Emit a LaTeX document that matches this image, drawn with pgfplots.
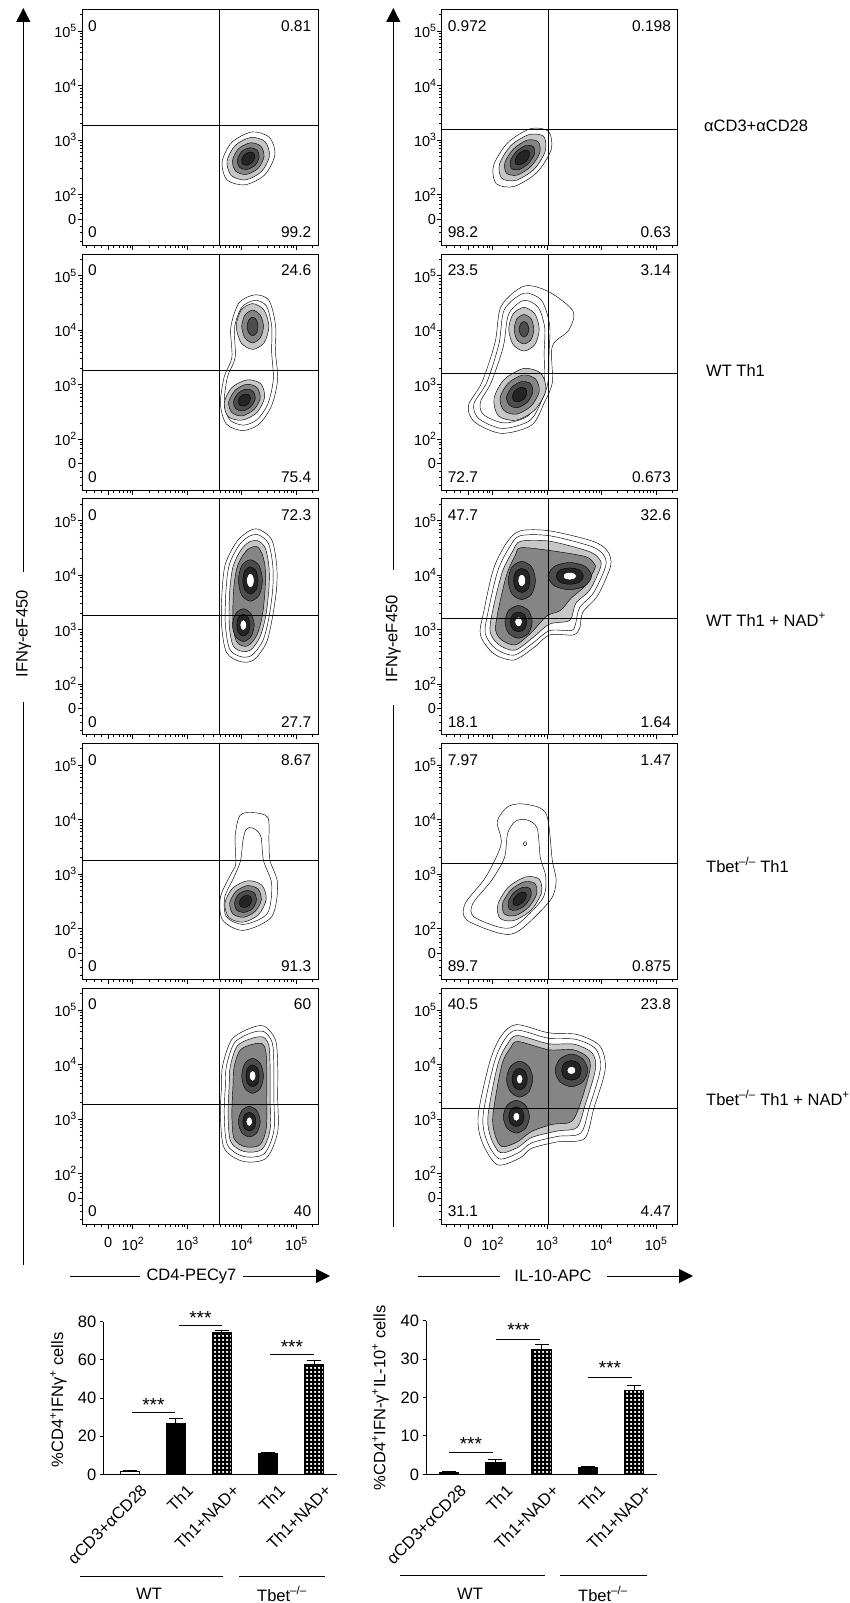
\documentclass[border=0pt]{standalone}
\usepackage{fontspec}
\setmainfont{Liberation Sans}
\usepackage{pgfplots}
\pgfplotsset{compat=1.18}
\usetikzlibrary{arrows.meta,patterns}

\pgfdeclarepatternformonly{blackgrid}{\pgfqpoint{-0.1pt}{-0.1pt}}{\pgfqpoint{4.1pt}{4.1pt}}{\pgfqpoint{4pt}{4pt}}{%
  \pgfpathrectangle{\pgfqpoint{0pt}{0pt}}{\pgfqpoint{4pt}{2pt}}%
  \pgfpathrectangle{\pgfqpoint{0pt}{0pt}}{\pgfqpoint{2pt}{4pt}}%
  \pgfusepath{fill}}

\newcommand\fTick{\fontsize{14.5}{15}\selectfont}
\newcommand\sups[1]{\raisebox{0.42em}{\fontsize{10.5}{11}\selectfont #1}}
\newcommand\fQ{\fontsize{15.5}{16}\selectfont}
\newcommand\fL{\fontsize{16.5}{17}\selectfont}
\newcommand\fB{\fontsize{16.5}{17}\selectfont}
\newcommand\fS{\fontsize{19}{19}\selectfont}

\pgfplotsset{
  c0/.style={draw=black, line width=0.45pt, smooth cycle, fill=none},
  c1/.style={c0, fill=black!22},
  c2/.style={c0, fill=black!48},
  c3/.style={c0, fill=black!70},
  c4/.style={c0, fill=black!86},
  cw/.style={c0, fill=white},
  gate/.style={black, line width=0.9pt},
  flow/.style={
    scale only axis, width=236pt, height=236pt, anchor=north west,
    xmin=1.07, xmax=5.4, ymin=1.07, ymax=5.4,
    axis line style={line width=0.9pt},
    tick align=outside, xtick pos=left, ytick pos=left,
    xtick={1.55,2,3,4,5}, ytick={1.55,2,3,4,5},
    xticklabels={},
    yticklabels={0,10\sups{2},10\sups{3},10\sups{4},10\sups{5}},
    minor xtick={1.15,1.3,1.42,1.65,1.75,1.83,1.9,1.95,2.301,2.477,2.602,2.699,2.778,2.845,2.903,2.954,3.301,3.477,3.602,3.699,3.778,3.845,3.903,3.954,4.301,4.477,4.602,4.699,4.778,4.845,4.903,4.954,5.301},
    minor ytick={1.15,1.3,1.42,1.65,1.75,1.83,1.9,1.95,2.301,2.477,2.602,2.699,2.778,2.845,2.903,2.954,3.301,3.477,3.602,3.699,3.778,3.845,3.903,3.954,4.301,4.477,4.602,4.699,4.778,4.845,4.903,4.954,5.301},
    major tick length=4.5pt, minor tick length=2.5pt,
    every tick/.style={black, line width=0.7pt},
    tick label style={font=\fTick},
    yticklabel style={inner sep=1pt},
    xticklabel style={yshift=-5pt},
  },
  flowbottom/.style={xticklabels={0,10\sups{2},10\sups{3},10\sups{4},10\sups{5}}},
  barax/.style={
    scale only axis, anchor=south west,
    axis x line*=bottom, axis y line*=left,
    axis line style={line width=1pt},
    ymin=0, xtick={0,1,2,3,4},
    xticklabels={αCD3+αCD28,Th1,Th1+NAD+,Th1,Th1+NAD+},
    x tick style={draw=none},
    y tick style={black, line width=0.9pt},
    tick align=outside, major tick length=3.5pt,
    tick label style={font=\fB},
    /pgf/number format/assume math mode=true,
    xticklabel style={rotate=45, anchor=east, inner sep=1pt, xshift=4pt, yshift=-17pt},
    clip=false,
  },
  barstyle/.style={ybar, bar width=19.5pt, bar shift=0pt, draw=black, line width=1pt},
  errstyle/.style={error bars/.cd, y dir=plus, y explicit, error mark options={rotate=90, mark size=7pt, line width=1pt}, error bar style={line width=1pt}},
}
\tikzset{qn/.style={font=\fQ, inner sep=0pt}}
\newcommand\qlab[4]{%
  \node[qn, anchor=west] at (rel axis cs:0.025,0.93) {#1};
  \node[qn, anchor=east] at (rel axis cs:0.972,0.93) {#2};
  \node[qn, anchor=west] at (rel axis cs:0.025,0.055) {#3};
  \node[qn, anchor=east] at (rel axis cs:0.972,0.055) {#4};}
\newcommand\lgates{%
  \addplot[gate] coordinates {(3.59,1.07) (3.59,5.4)};
  \addplot[gate] coordinates {(1.07,3.26) (5.4,3.26)};}
\newcommand\rgates{%
  \addplot[gate] coordinates {(3.03,1.07) (3.03,5.4)};
  \addplot[gate] coordinates {(1.07,3.2) (5.4,3.2)};}

\begin{document}
\begin{tikzpicture}
\useasboundingbox (0,0) rectangle (850pt,-1603pt);

% ---------------- Row 1 ----------------
\begin{axis}[flow, at={(82pt,-9.3pt)}]
\addplot[c0] coordinates {(4.51,3.05)(4.19,3.15)(3.82,2.96)(3.64,2.60)(3.73,2.27)(4.06,2.18)(4.42,2.36)(4.61,2.73)};
\addplot[c1] coordinates {(4.43,2.97)(4.17,3.05)(3.88,2.90)(3.73,2.61)(3.81,2.35)(4.07,2.27)(4.36,2.42)(4.51,2.71)};
\addplot[c2] coordinates {(4.35,2.89)(4.16,2.95)(3.94,2.84)(3.83,2.62)(3.89,2.43)(4.08,2.37)(4.30,2.48)(4.41,2.70)};
\addplot[c3] coordinates {(4.28,2.82)(4.15,2.86)(4.00,2.79)(3.92,2.63)(3.96,2.50)(4.09,2.46)(4.25,2.54)(4.32,2.69)};
\addplot[c4] coordinates {(4.22,2.76)(4.14,2.78)(4.05,2.73)(4.00,2.64)(4.02,2.56)(4.10,2.54)(4.19,2.59)(4.24,2.68)};
\lgates
\qlab{0}{0.81}{0}{99.2}
\end{axis}

\begin{axis}[flow, at={(441.7pt,-9.3pt)}]
\addplot[c0] coordinates {(3.03,3.16)(2.70,3.21)(2.28,2.95)(2.02,2.53)(2.07,2.20)(2.40,2.15)(2.82,2.41)(3.08,2.83)};
\addplot[c1] coordinates {(2.94,3.07)(2.67,3.10)(2.34,2.90)(2.13,2.56)(2.17,2.30)(2.43,2.26)(2.77,2.47)(2.97,2.80)};
\addplot[c2] coordinates {(2.84,2.97)(2.64,3.00)(2.39,2.84)(2.23,2.59)(2.26,2.39)(2.46,2.36)(2.71,2.52)(2.87,2.77)};
\addplot[c3] coordinates {(2.75,2.88)(2.61,2.90)(2.44,2.79)(2.33,2.62)(2.35,2.48)(2.49,2.46)(2.66,2.57)(2.77,2.74)};
\addplot[c4] coordinates {(2.67,2.80)(2.59,2.81)(2.48,2.75)(2.42,2.64)(2.43,2.56)(2.51,2.55)(2.62,2.61)(2.68,2.72)};
\rgates
\qlab{0.972}{0.198}{98.2}{0.63}
\end{axis}

% ---------------- Row 2 ----------------
\begin{axis}[flow, at={(82pt,-254pt)}]
\addplot[c0] coordinates {(4.66,3.10)(4.62,3.60)(4.62,4.10)(4.50,4.55)(4.24,4.65)(3.95,4.50)(3.80,4.05)(3.82,3.50)(3.68,3.15)(3.61,2.65)(3.72,2.28)(4.02,2.16)(4.32,2.28)(4.55,2.62)};
\addplot[c0] coordinates {(4.58,3.10)(4.55,3.60)(4.55,4.08)(4.45,4.45)(4.24,4.55)(4.00,4.42)(3.87,4.05)(3.88,3.50)(3.74,3.15)(3.68,2.67)(3.78,2.36)(4.03,2.26)(4.28,2.36)(4.48,2.65)};
\addplot[c1] coordinates {(4.50,4.07)(4.41,4.37)(4.20,4.49)(3.99,4.37)(3.90,4.07)(3.99,3.77)(4.20,3.65)(4.41,3.77)};
\addplot[c2] coordinates {(4.40,4.07)(4.34,4.28)(4.20,4.37)(4.06,4.28)(4.00,4.07)(4.06,3.86)(4.20,3.77)(4.34,3.86)};
\addplot[c3] coordinates {(4.30,4.07)(4.27,4.19)(4.20,4.24)(4.13,4.19)(4.10,4.07)(4.13,3.95)(4.20,3.90)(4.27,3.95)};
\addplot[c1] coordinates {(4.35,3.02)(4.10,3.09)(3.82,2.95)(3.68,2.67)(3.75,2.42)(4.00,2.35)(4.28,2.49)(4.42,2.77)};
\addplot[c2] coordinates {(4.28,2.95)(4.09,3.01)(3.88,2.90)(3.76,2.68)(3.82,2.49)(4.01,2.43)(4.23,2.55)(4.34,2.76)};
\addplot[c3] coordinates {(4.21,2.88)(4.08,2.92)(3.93,2.84)(3.85,2.69)(3.89,2.56)(4.02,2.52)(4.17,2.60)(4.25,2.75)};
\addplot[c4] coordinates {(4.14,2.81)(4.07,2.83)(3.98,2.79)(3.94,2.71)(3.96,2.63)(4.04,2.61)(4.12,2.65)(4.16,2.74)};
\lgates
\qlab{0}{24.6}{0}{75.4}
\end{axis}

\begin{axis}[flow, at={(441.7pt,-254pt)}]
\addplot[c0] coordinates {(2.58,4.81)(3.03,4.71)(3.48,4.35)(3.40,4.00)(3.10,3.71)(3.10,3.05)(2.96,2.69)(2.72,2.26)(2.16,2.11)(1.67,2.32)(1.56,2.62)(1.81,3.05)(2.05,3.78)(2.16,4.44)};
\addplot[c0] coordinates {(2.58,4.68)(2.90,4.55)(3.05,4.10)(3.04,3.60)(3.02,3.05)(2.90,2.70)(2.68,2.34)(2.18,2.20)(1.75,2.38)(1.66,2.65)(1.90,3.05)(2.12,3.75)(2.22,4.38)};
\addplot[c0] coordinates {(2.58,4.55)(2.84,4.42)(2.96,4.05)(2.95,3.60)(2.95,3.05)(2.84,2.72)(2.64,2.42)(2.22,2.30)(1.84,2.45)(1.78,2.68)(1.98,3.05)(2.20,3.70)(2.30,4.30)};
\addplot[c1] coordinates {(2.86,4.02)(2.78,4.30)(2.58,4.42)(2.38,4.30)(2.30,4.02)(2.38,3.74)(2.58,3.62)(2.78,3.74)};
\addplot[c2] coordinates {(2.76,4.02)(2.71,4.21)(2.58,4.29)(2.45,4.21)(2.40,4.02)(2.45,3.83)(2.58,3.75)(2.71,3.83)};
\addplot[c3] coordinates {(2.67,4.02)(2.64,4.12)(2.58,4.16)(2.52,4.12)(2.49,4.02)(2.52,3.92)(2.58,3.88)(2.64,3.92)};
\addplot[c1] coordinates {(2.89,3.21)(2.58,3.30)(2.22,3.10)(2.03,2.75)(2.11,2.43)(2.43,2.35)(2.78,2.54)(2.98,2.90)};
\addplot[c2] coordinates {(2.79,3.11)(2.56,3.18)(2.29,3.03)(2.14,2.76)(2.21,2.53)(2.44,2.46)(2.71,2.61)(2.86,2.88)};
\addplot[c3] coordinates {(2.70,3.02)(2.54,3.06)(2.36,2.96)(2.26,2.78)(2.31,2.63)(2.46,2.58)(2.64,2.68)(2.74,2.86)};
\addplot[c4] coordinates {(2.61,2.93)(2.52,2.95)(2.42,2.90)(2.37,2.80)(2.39,2.71)(2.48,2.69)(2.58,2.74)(2.63,2.84)};
\rgates
\qlab{23.5}{3.14}{72.7}{0.673}
\end{axis}

% ---------------- Row 3 ----------------
\begin{axis}[flow, at={(82pt,-498.7pt)}]
\addplot[c0] coordinates {(4.31,4.84)(4.55,4.65)(4.64,4.20)(4.64,3.75)(4.56,3.20)(4.45,2.75)(4.22,2.44)(3.98,2.41)(3.72,2.58)(3.63,3.10)(3.64,3.70)(3.70,4.20)(3.90,4.60)(4.12,4.80)};
\addplot[c0] coordinates {(4.30,4.74)(4.49,4.58)(4.57,4.18)(4.57,3.75)(4.50,3.22)(4.39,2.80)(4.19,2.53)(3.99,2.50)(3.78,2.64)(3.70,3.10)(3.71,3.70)(3.77,4.18)(3.94,4.53)(4.12,4.70)};
\addplot[c1] coordinates {(4.29,4.63)(4.43,4.50)(4.50,4.16)(4.50,3.75)(4.44,3.24)(4.33,2.85)(4.16,2.62)(4.00,2.60)(3.84,2.71)(3.77,3.10)(3.78,3.70)(3.84,4.15)(3.98,4.45)(4.13,4.60)};
\addplot[c2] coordinates {(4.28,4.52)(4.37,4.40)(4.43,4.14)(4.43,3.75)(4.38,3.26)(4.28,2.90)(4.13,2.71)(4.01,2.70)(3.90,2.79)(3.84,3.10)(3.85,3.70)(3.91,4.12)(4.02,4.36)(4.14,4.49)};
\addplot[c3] coordinates {(4.38,3.90)(4.32,4.17)(4.16,4.28)(4.00,4.17)(3.94,3.90)(4.00,3.63)(4.16,3.52)(4.32,3.63)};
\addplot[c4] coordinates {(4.30,3.90)(4.26,4.08)(4.16,4.15)(4.06,4.08)(4.02,3.90)(4.06,3.72)(4.16,3.65)(4.26,3.72)};
\addplot[cw] coordinates {(4.23,3.90)(4.21,3.99)(4.16,4.03)(4.11,3.99)(4.09,3.90)(4.11,3.81)(4.16,3.77)(4.21,3.81)};
\addplot[c3] coordinates {(4.23,3.08)(4.17,3.29)(4.03,3.38)(3.89,3.29)(3.83,3.08)(3.89,2.87)(4.03,2.78)(4.17,2.87)};
\addplot[c4] coordinates {(4.15,3.08)(4.12,3.22)(4.03,3.28)(3.94,3.22)(3.91,3.08)(3.94,2.94)(4.03,2.88)(4.12,2.94)};
\addplot[cw] coordinates {(4.09,3.08)(4.07,3.15)(4.03,3.18)(3.99,3.15)(3.97,3.08)(3.99,3.01)(4.03,2.98)(4.07,3.01)};
\lgates
\qlab{0}{72.3}{0}{27.7}
\end{axis}

\begin{axis}[flow, at={(441.7pt,-498.7pt)}]
\addplot[c0] coordinates {(2.51,4.81)(3.05,4.81)(3.84,4.62)(4.11,4.44)(4.17,4.17)(3.93,3.62)(3.66,3.32)(3.60,3.02)(3.48,2.90)(3.05,2.90)(2.75,2.66)(2.39,2.44)(2.02,2.56)(1.78,2.90)(1.84,3.32)(2.02,4.11)(2.26,4.59)};
\addplot[c0] coordinates {(2.51,4.72)(3.05,4.72)(3.80,4.53)(4.03,4.38)(4.08,4.17)(3.86,3.68)(3.60,3.40)(3.52,3.08)(3.44,2.98)(3.05,2.98)(2.74,2.75)(2.40,2.53)(2.07,2.64)(1.87,2.92)(1.92,3.32)(2.10,4.08)(2.32,4.52)};
\addplot[c1] coordinates {(2.52,4.62)(3.05,4.62)(3.75,4.44)(3.95,4.31)(3.99,4.16)(3.79,3.73)(3.53,3.48)(3.42,3.17)(3.05,3.10)(2.73,2.84)(2.41,2.62)(2.12,2.72)(1.96,2.95)(2.00,3.32)(2.18,4.05)(2.38,4.45)};
\addplot[c2] coordinates {(2.52,4.50)(3.05,4.45)(3.70,4.34)(3.86,4.22)(3.88,4.12)(3.70,3.80)(3.45,3.58)(3.25,3.35)(3.00,3.25)(2.72,2.95)(2.43,2.72)(2.18,2.80)(2.06,2.98)(2.10,3.32)(2.26,4.00)(2.42,4.36)};
\addplot[c3] coordinates {(3.82,3.98)(3.70,4.16)(3.42,4.23)(3.14,4.16)(3.02,3.98)(3.14,3.80)(3.42,3.73)(3.70,3.80)};
\addplot[c4] coordinates {(3.67,3.98)(3.60,4.09)(3.42,4.13)(3.24,4.09)(3.17,3.98)(3.24,3.87)(3.42,3.83)(3.60,3.87)};
\addplot[cw] coordinates {(3.54,3.98)(3.51,4.03)(3.42,4.05)(3.33,4.03)(3.30,3.98)(3.33,3.93)(3.42,3.91)(3.51,3.93)};
\addplot[c3] coordinates {(2.79,3.90)(2.72,4.15)(2.54,4.25)(2.36,4.15)(2.29,3.90)(2.36,3.65)(2.54,3.55)(2.72,3.65)};
\addplot[c4] coordinates {(2.69,3.90)(2.65,4.06)(2.54,4.12)(2.43,4.06)(2.39,3.90)(2.43,3.74)(2.54,3.68)(2.65,3.74)};
\addplot[cw] coordinates {(2.61,3.90)(2.59,3.98)(2.54,4.01)(2.49,3.98)(2.47,3.90)(2.49,3.82)(2.54,3.79)(2.59,3.82)};
\addplot[c3] coordinates {(2.73,3.14)(2.66,3.35)(2.48,3.44)(2.30,3.35)(2.23,3.14)(2.30,2.93)(2.48,2.84)(2.66,2.93)};
\addplot[c4] coordinates {(2.63,3.14)(2.59,3.27)(2.48,3.32)(2.37,3.27)(2.33,3.14)(2.37,3.01)(2.48,2.96)(2.59,3.01)};
\addplot[cw] coordinates {(2.55,3.14)(2.53,3.20)(2.48,3.23)(2.43,3.20)(2.41,3.14)(2.43,3.08)(2.48,3.05)(2.53,3.08)};
\rgates
\qlab{47.7}{32.6}{18.1}{1.64}
\end{axis}

% ---------------- Row 4 ----------------
\begin{axis}[flow, at={(82pt,-743.4pt)}]
\addplot[c0] coordinates {(4.21,4.13)(4.48,4.04)(4.50,3.60)(4.52,3.25)(4.66,2.82)(4.55,2.22)(4.03,1.97)(3.65,2.16)(3.61,2.58)(3.80,3.00)(3.89,3.19)(3.88,3.70)(3.97,4.08)};
\addplot[c0] coordinates {(4.20,3.85)(4.35,3.70)(4.40,3.25)(4.55,2.82)(4.47,2.28)(4.04,2.08)(3.72,2.22)(3.69,2.58)(3.86,2.95)(3.98,3.25)(4.02,3.60)(4.08,3.82)};
\addplot[c1] coordinates {(4.37,2.80)(4.11,2.88)(3.83,2.74)(3.69,2.46)(3.77,2.20)(4.03,2.12)(4.31,2.26)(4.45,2.54)};
\addplot[c2] coordinates {(4.30,2.73)(4.10,2.79)(3.89,2.68)(3.78,2.47)(3.84,2.27)(4.04,2.21)(4.25,2.32)(4.36,2.53)};
\addplot[c3] coordinates {(4.23,2.66)(4.09,2.70)(3.94,2.63)(3.87,2.48)(3.91,2.34)(4.05,2.30)(4.20,2.37)(4.27,2.52)};
\addplot[c4] coordinates {(4.16,2.59)(4.08,2.61)(4.00,2.57)(3.96,2.49)(3.98,2.41)(4.06,2.39)(4.14,2.43)(4.18,2.51)};
\lgates
\qlab{0}{8.67}{0}{91.3}
\end{axis}

\begin{axis}[flow, at={(441.7pt,-743.4pt)}]
\addplot[c0] coordinates {(2.64,4.28)(2.99,4.10)(3.10,3.25)(3.17,2.88)(3.06,2.52)(2.50,1.97)(2.16,1.91)(1.53,2.16)(1.50,2.46)(1.88,2.95)(2.16,3.55)(2.09,3.97)(2.30,4.25)};
\addplot[c0] coordinates {(2.62,4.00)(2.82,3.85)(2.88,3.30)(2.98,2.95)(2.92,2.55)(2.45,2.07)(2.16,2.02)(1.66,2.22)(1.64,2.46)(1.98,2.88)(2.22,3.30)(2.28,3.75)(2.42,3.97)};
\addplot[c0] coordinates {(2.63,3.56)(2.60,3.60)(2.57,3.56)(2.60,3.52)};
\addplot[c1] coordinates {(2.86,2.91)(2.61,2.95)(2.29,2.76)(2.10,2.44)(2.14,2.19)(2.39,2.15)(2.71,2.34)(2.90,2.66)};
\addplot[c2] coordinates {(2.78,2.83)(2.58,2.86)(2.34,2.71)(2.19,2.47)(2.22,2.27)(2.42,2.24)(2.66,2.39)(2.81,2.63)};
\addplot[c3] coordinates {(2.69,2.74)(2.56,2.76)(2.39,2.66)(2.29,2.49)(2.31,2.36)(2.44,2.34)(2.61,2.44)(2.71,2.61)};
\addplot[c4] coordinates {(2.61,2.66)(2.53,2.67)(2.44,2.61)(2.38,2.52)(2.39,2.44)(2.47,2.43)(2.56,2.49)(2.62,2.58)};
\rgates
\qlab{7.97}{1.47}{89.7}{0.875}
\end{axis}

% ---------------- Row 5 ----------------
\begin{axis}[flow, flowbottom, at={(82pt,-988.1pt)}]
\addplot[c0] coordinates {(4.42,4.70)(4.62,4.45)(4.66,4.00)(4.66,3.40)(4.66,2.76)(4.45,2.28)(4.03,2.22)(3.68,2.46)(3.61,3.07)(3.63,3.60)(3.65,3.98)(3.82,4.46)(4.17,4.67)};
\addplot[c0] coordinates {(4.41,4.60)(4.56,4.40)(4.59,4.00)(4.59,3.40)(4.59,2.78)(4.41,2.36)(4.04,2.31)(3.74,2.52)(3.68,3.07)(3.70,3.60)(3.72,3.97)(3.87,4.40)(4.18,4.58)};
\addplot[c1] coordinates {(4.40,4.50)(4.50,4.34)(4.52,4.00)(4.52,3.40)(4.52,2.80)(4.37,2.44)(4.05,2.40)(3.80,2.58)(3.75,3.07)(3.77,3.60)(3.79,3.96)(3.92,4.34)(4.19,4.48)};
\addplot[c2] coordinates {(4.38,4.38)(4.44,4.25)(4.46,3.98)(4.46,3.40)(4.45,2.82)(4.33,2.52)(4.06,2.49)(3.86,2.64)(3.82,3.07)(3.84,3.60)(3.86,3.95)(3.97,4.26)(4.20,4.37)};
\addplot[c3] coordinates {(4.40,3.79)(4.34,4.02)(4.20,4.11)(4.06,4.02)(4.00,3.79)(4.06,3.56)(4.20,3.47)(4.34,3.56)};
\addplot[c4] coordinates {(4.32,3.79)(4.29,3.93)(4.20,3.99)(4.11,3.93)(4.08,3.79)(4.11,3.65)(4.20,3.59)(4.29,3.65)};
\addplot[cw] coordinates {(4.26,3.79)(4.24,3.86)(4.20,3.89)(4.16,3.86)(4.14,3.79)(4.16,3.72)(4.20,3.69)(4.24,3.72)};
\addplot[c3] coordinates {(4.34,2.95)(4.28,3.15)(4.14,3.23)(4.00,3.15)(3.94,2.95)(4.00,2.75)(4.14,2.67)(4.28,2.75)};
\addplot[c4] coordinates {(4.26,2.95)(4.23,3.07)(4.14,3.12)(4.05,3.07)(4.02,2.95)(4.05,2.83)(4.14,2.78)(4.23,2.83)};
\addplot[cw] coordinates {(4.20,2.95)(4.18,3.01)(4.14,3.04)(4.10,3.01)(4.08,2.95)(4.10,2.89)(4.14,2.86)(4.18,2.89)};
\lgates
\qlab{0}{60}{0}{40}
\end{axis}

\begin{axis}[flow, flowbottom, at={(441.7pt,-988.1pt)}]
\addplot[c0] coordinates {(2.44,4.73)(3.03,4.58)(3.55,4.55)(3.97,4.34)(4.07,3.91)(3.86,3.19)(3.69,2.64)(3.20,2.58)(2.72,2.46)(2.50,2.28)(2.09,2.16)(1.81,2.58)(1.74,3.07)(1.95,4.04)(2.16,4.52)};
\addplot[c0] coordinates {(2.45,4.63)(3.03,4.48)(3.53,4.46)(3.90,4.28)(3.98,3.91)(3.78,3.22)(3.62,2.74)(3.20,2.68)(2.72,2.56)(2.48,2.38)(2.12,2.27)(1.89,2.62)(1.83,3.07)(2.03,4.02)(2.22,4.45)};
\addplot[c1] coordinates {(2.46,4.53)(3.03,4.38)(3.50,4.37)(3.83,4.21)(3.89,3.91)(3.70,3.25)(3.55,2.84)(3.20,2.78)(2.72,2.66)(2.47,2.48)(2.15,2.38)(1.97,2.66)(1.92,3.07)(2.10,4.00)(2.28,4.38)};
\addplot[c2] coordinates {(2.47,4.42)(3.03,4.27)(3.48,4.27)(3.75,4.13)(3.79,3.90)(3.62,3.30)(3.45,2.95)(3.10,2.90)(2.72,2.77)(2.46,2.58)(2.18,2.49)(2.05,2.70)(2.01,3.07)(2.17,3.98)(2.33,4.30)};
\addplot[c3] coordinates {(3.75,3.89)(3.66,4.10)(3.45,4.19)(3.24,4.10)(3.15,3.89)(3.24,3.68)(3.45,3.59)(3.66,3.68)};
\addplot[c4] coordinates {(3.63,3.89)(3.58,4.02)(3.45,4.07)(3.32,4.02)(3.27,3.89)(3.32,3.76)(3.45,3.71)(3.58,3.76)};
\addplot[cw] coordinates {(3.53,3.89)(3.51,3.94)(3.45,3.96)(3.39,3.94)(3.37,3.89)(3.39,3.84)(3.45,3.82)(3.51,3.84)};
\addplot[c3] coordinates {(2.74,3.73)(2.67,3.96)(2.50,4.06)(2.33,3.96)(2.26,3.73)(2.33,3.50)(2.50,3.40)(2.67,3.50)};
\addplot[c4] coordinates {(2.64,3.73)(2.60,3.87)(2.50,3.93)(2.40,3.87)(2.36,3.73)(2.40,3.59)(2.50,3.53)(2.60,3.59)};
\addplot[cw] coordinates {(2.56,3.73)(2.54,3.79)(2.50,3.82)(2.46,3.79)(2.44,3.73)(2.46,3.67)(2.50,3.64)(2.54,3.67)};
\addplot[c3] coordinates {(2.68,3.04)(2.61,3.25)(2.44,3.34)(2.27,3.25)(2.20,3.04)(2.27,2.83)(2.44,2.74)(2.61,2.83)};
\addplot[c4] coordinates {(2.58,3.04)(2.54,3.17)(2.44,3.22)(2.34,3.17)(2.30,3.04)(2.34,2.91)(2.44,2.86)(2.54,2.91)};
\addplot[cw] coordinates {(2.50,3.04)(2.48,3.10)(2.44,3.12)(2.40,3.10)(2.38,3.04)(2.40,2.98)(2.44,2.96)(2.48,2.98)};
\rgates
\qlab{40.5}{23.8}{31.1}{4.47}
\end{axis}

% ---------------- axis arrows and labels ----------------
\draw[line width=0.9pt] (23.3pt,-1265pt) -- (23.3pt,-702pt);
\draw[line width=0.9pt, -{Triangle[width=14pt,length=14pt]}] (23.3pt,-572pt) -- (23.3pt,-8pt);
\node[rotate=90, font=\fL] at (23.5pt,-634pt) {IFNγ-eF450};
\draw[line width=0.9pt] (393.3pt,-1227pt) -- (393.3pt,-705pt);
\draw[line width=0.9pt, -{Triangle[width=14pt,length=14pt]}] (393.3pt,-570pt) -- (393.3pt,-8pt);
\node[rotate=90, font=\fL] at (393.3pt,-639pt) {IFNγ-eF450};

\draw[line width=0.9pt] (70pt,-1276pt) -- (140pt,-1276pt);
\node[font=\fL] at (191.5pt,-1276pt) {CD4-PECy7};
\draw[line width=0.9pt, -{Triangle[width=14pt,length=14pt]}] (243pt,-1276pt) -- (330pt,-1276pt);
\draw[line width=0.9pt] (418pt,-1276pt) -- (500pt,-1276pt);
\node[font=\fL] at (553pt,-1276pt) {IL-10-APC};
\draw[line width=0.9pt, -{Triangle[width=14pt,length=14pt]}] (607pt,-1276pt) -- (693pt,-1276pt);

% row labels
\node[anchor=base west, font=\fL, inner sep=0pt] at (704pt,-131.7pt) {αCD3+αCD28};
\node[anchor=base west, font=\fL, inner sep=0pt] at (706pt,-376pt) {WT Th1};
\node[anchor=base west, font=\fL, inner sep=0pt] at (706pt,-626pt) {WT Th1 + NAD\textsuperscript{+}};
\node[anchor=base west, font=\fL, inner sep=0pt] at (706pt,-872pt) {Tbet\textsuperscript{–/–} Th1};
\node[anchor=base west, font=\fL, inner sep=0pt] at (706pt,-1105pt) {Tbet\textsuperscript{–/–} Th1 + NAD\textsuperscript{+}};

% ---------------- bar chart 1 ----------------
\begin{axis}[barax, at={(103.3pt,-1474.3pt)}, width=233.7pt, height=152.6pt,
  xmin=-0.58, xmax=4.5, ymax=80, ytick={0,20,40,60,80}]
\addplot[barstyle, fill=white, errstyle] coordinates {(0,1.4) +- (0,0.7)};
\addplot[barstyle, fill=black, errstyle] coordinates {(1,26.7) +- (0,2.6) (3,10.7) +- (0,1.0)};
\addplot[barstyle, fill=white, postaction={pattern=blackgrid}, errstyle] coordinates {(2,74.2) +- (0,1.1) (4,57.8) +- (0,2.1)};
\addplot[black, line width=0.9pt] coordinates {(0.04,32.3) (0.98,32.3)};
\addplot[black, line width=0.9pt] coordinates {(1.07,78.3) (1.99,78.3)};
\addplot[black, line width=0.9pt] coordinates {(3.05,62.9) (3.99,62.9)};
\node[font=\fS, yshift=-3.5pt] at (axis cs:0.51,38.4) {***};
\node[font=\fS, yshift=-3.5pt] at (axis cs:1.53,84) {***};
\node[font=\fS, yshift=-3.5pt] at (axis cs:3.52,68.7) {***};
\end{axis}
\node[rotate=90, font=\fB] at (58.3pt,-1400pt) {\%CD4\textsuperscript{+}IFNγ\textsuperscript{+} cells};
\draw[line width=0.9pt] (80pt,-1576.7pt) -- (223.3pt,-1576.7pt);
\draw[line width=0.9pt] (239.3pt,-1576.7pt) -- (325pt,-1576.7pt);
\node[font=\fB] at (149pt,-1594pt) {WT};
\node[font=\fB] at (282pt,-1594pt) {Tbet\textsuperscript{–/–}};

% ---------------- bar chart 2 ----------------
\begin{axis}[barax, at={(426pt,-1474.3pt)}, width=230.7pt, height=153.6pt,
  xmin=-0.5, xmax=4.49, ymax=40, ytick={0,10,20,30,40}]
\addplot[barstyle, fill=black, errstyle] coordinates {(0,0.5) +- (0,0.3) (1,3.1) +- (0,0.8) (3,1.65) +- (0,0.35)};
\addplot[barstyle, fill=white, postaction={pattern=blackgrid}, errstyle] coordinates {(2,32.5) +- (0,1.4) (4,21.95) +- (0,1.3)};
\addplot[black, line width=0.9pt] coordinates {(0,5.6) (0.94,5.6)};
\addplot[black, line width=0.9pt] coordinates {(1.02,35.2) (1.97,35.2)};
\addplot[black, line width=0.9pt] coordinates {(3.01,25.2) (3.95,25.2)};
\node[font=\fS, yshift=-3.5pt] at (axis cs:0.47,8.75) {***};
\node[font=\fS, yshift=-3.5pt] at (axis cs:1.5,38.4) {***};
\node[font=\fS, yshift=-3.5pt] at (axis cs:3.48,28.5) {***};
\end{axis}
\node[rotate=90, font=\fB] at (380.5pt,-1398pt) {\%CD4\textsuperscript{+}IFN-γ\textsuperscript{+}IL-10\textsuperscript{+} cells};
\draw[line width=0.9pt] (400pt,-1575.7pt) -- (545pt,-1575.7pt);
\draw[line width=0.9pt] (560pt,-1575.7pt) -- (646.7pt,-1575.7pt);
\node[font=\fB] at (470pt,-1594pt) {WT};
\node[font=\fB] at (603pt,-1594pt) {Tbet\textsuperscript{–/–}};

\end{tikzpicture}
\end{document}
